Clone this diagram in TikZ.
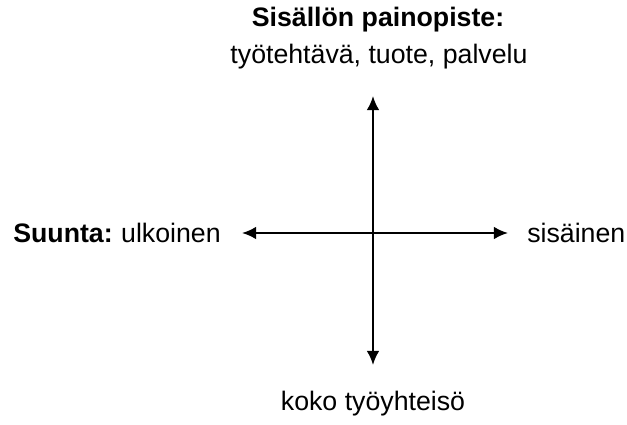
\documentclass[tikz,border=0pt]{standalone}
\usepackage{fontspec}
\setmainfont{Liberation Sans}
\usetikzlibrary{calc,arrows.meta}
\tikzset{
  axislabel/.style={inner sep=0pt,font=\fontsize{19}{23}\selectfont},
  axisarrow/.style={line width=1.5pt,{Latex[length=10pt,width=9pt]}-{Latex[length=10pt,width=9pt]}}
}
\begin{document}
\begin{tikzpicture}[x=0.025cm,y=-0.025cm]
\useasboundingbox (0,0) rectangle (627,425);
\coordinate (top) at (373,96);
\coordinate (bottom) at (373,365);
\coordinate (left) at (242,233);
\coordinate (right) at (508,233);
\node[axislabel,anchor=center] (title) at (378,20) {\bfseries Sisällön painopiste:};
\node[axislabel,anchor=center] (content) at (379,57) {työtehtävä, tuote, palvelu};
\node[axislabel,anchor=west] (outer) at (13,233) {{\bfseries Suunta:}\hspace{-1pt} ulkoinen};
\node[axislabel,anchor=west] (inner) at (527,233) {sisäinen};
\node[axislabel,anchor=center] (whole) at (373,404) {koko työyhteisö};
\draw[axisarrow] (top) -- (bottom);
\draw[axisarrow] (left) -- (right);
\end{tikzpicture}
\end{document}
